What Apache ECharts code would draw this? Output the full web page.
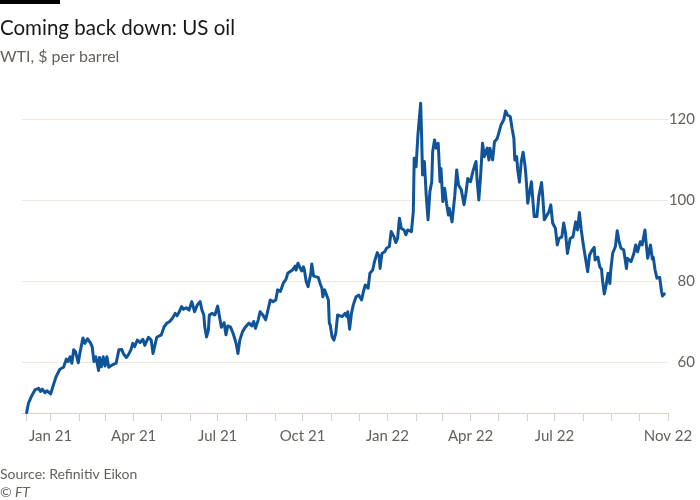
<!DOCTYPE html>
<html>
<head>
<meta charset="utf-8">
<script src="https://cdn.jsdelivr.net/npm/echarts@6/dist/echarts.min.js"></script>
<style>html,body{margin:0;padding:0;background:#fff;}#c{width:700px;height:500px;}</style>
</head>
<body>
<div id="c"></div>
<script>
// Days since 1 Jan 2021 (as placed on the chart's time axis)
const days = [-26,-24,-21,-17,-13,-11,-9,-6,-4,0,3,6,10,14,17,19,21,23,25,27,30,32,35,37,40,43,45,47,49,52,53,55,57,59,61,63,67,71,74,77,79,82,84,87,89,91,94,97,100,102,106,108,109,111,115,117,120,123,126,129,132,135,137,139,142,144,147,150,153,154,156,159,162,164,166,167,169,171,172,175,178,181,183,185,188,190,192,195,198,201,203,205,208,211,215,218,220,222,225,227,230,233,236,238,241,244,246,249,252,255,257,259,262,265,266,268,270,272,274,275,277,279,282,283,285,287,290,292,294,295,297,299,301,302,303,305,307,309,311,313,316,319,321,322,324,326,328,331,334,337,339,341,344,346,349,351,354,356,357,359,362,364,367,369,372,374,376,378,380,383,385,387,391,393,394,396,398,401,402,403,405,407,409,411,413,414,416,418,420,422,423,425,427,429,431,432,435,438,440,442,445,448,450,452,455,458,461,462,464,466,468,470,473,475,476,479,481,484,487,488,491,493,495,498,500,502,503,505,506,508,510,512,514,515,517,521,524,527,529,532,533,535,538,540,542,544,547,549,551,554,556,558,560,563,566,569,571,573,575,577,579,580,582,584,587,589,590,593,595,597,598,600,602,604,606,607,609,612,614,616,618,621,624,625,627,629,632,634,636,639,641,644,645,647,650,652,653,655,657,660,662,663,665];
// WTI, $ per barrel
const price = [47.5,49.8,51.4,53.1,53.5,52.7,53.3,52.4,52.9,52.1,54.3,56.4,58.2,58.7,60.7,60.1,61.3,59.7,63.0,62.5,59.8,62.5,65.9,64.6,65.7,64.8,63.8,60.1,61.3,57.9,61.1,58.8,61.3,59.0,61.3,58.7,59.3,59.7,63.0,63.1,62.0,61.1,61.7,63.0,64.6,63.8,65.4,64.8,65.6,64.1,66.1,66.2,65.4,62.1,66.1,66.5,66.7,68.7,69.6,70.0,70.8,72.0,71.4,72.2,73.7,73.0,73.4,72.8,74.9,74.5,72.4,74.1,74.9,72.8,71.6,68.7,66.2,67.9,71.6,72.0,71.6,73.8,71.2,68.6,69.7,66.7,68.9,68.6,66.9,64.6,62.1,65.4,67.5,68.6,69.6,68.9,70.0,68.3,70.4,72.4,71.6,70.4,73.3,75.3,74.9,75.3,77.8,77.4,79.4,80.4,81.9,82.2,82.7,83.7,82.7,84.4,83.4,82.5,83.5,82.7,79.8,78.6,81.9,84.2,81.2,80.9,80.9,79.4,78.2,76.1,77.8,78.2,75.3,69.6,69.1,66.2,65.4,67.1,71.6,72.0,71.2,72.0,71.2,72.4,68.1,72.0,74.1,76.1,76.5,75.3,77.4,79.0,78.2,81.9,82.7,84.8,87.0,86.0,83.1,86.8,87.2,88.1,88.5,92.2,91.0,89.5,90.5,95.5,93.0,92.6,91.4,92.6,92.2,97.1,110.3,108.2,116.0,123.9,116.0,106.2,109.5,101.2,95.1,102.1,104.5,111.9,114.8,112.8,114.0,104.5,107.8,99.6,102.9,99.2,96.3,97.9,94.6,101.2,107.4,103.7,102.5,98.8,101.6,105.3,104.5,107.4,109.5,105.3,100.0,106.2,114.0,110.7,112.8,109.9,112.8,109.9,114.4,115.2,117.7,118.5,119.8,122.0,121.0,120.6,117.7,115.2,109.9,110.7,107.8,104.4,109.5,111.8,108.6,106.2,99.2,104.5,95.9,95.9,100.8,104.3,101.7,95.1,96.3,97.1,98.8,94.3,93.0,88.9,90.5,90.9,94.3,91.8,86.8,90.5,90.9,94.6,92.6,96.9,92.6,89.3,86.4,86.8,82.3,86.4,87.7,88.3,85.2,85.9,83.5,82.9,80.2,76.8,79.0,81.9,79.4,82.7,86.8,88.5,92.4,89.7,88.1,87.7,83.1,85.6,86.0,84.8,86.8,88.9,87.2,89.7,88.9,92.6,90.1,85.6,88.9,85.4,85.9,82.7,80.7,80.9,77.4,76.3,76.8];
// Axis ticks: month starts (days since 1 Jan 2021)
const monthTicks = [-26,0,31,59,90,120,151,181,212,243,273,304,334,365,396,424,455,485,516,546,577,608,638,669];
const xLabelDays = [0,90,181,273,365,455,546,669];
const xLabelText = ['Jan 21','Apr 21','Jul 21','Oct 21','Jan 22','Apr 22','Jul 22','Nov 22'];
const yTicks = [60,80,100,120];

const FONT = 'Lato, "Open Sans", sans-serif';
const chart = echarts.init(document.getElementById('c'), null, {renderer:'canvas'});
chart.setOption({
  animation:false,
  backgroundColor:'#fff',
  graphic:[
    {type:'rect', shape:{x:0,y:0,width:60,height:4}, style:{fill:'#000'}},
    {type:'text', x:0, y:18, style:{text:'Coming back down: US oil', font:'20.5px '+FONT, fill:'#1a1817'}},
    {type:'text', x:0, y:49, style:{text:'WTI, $ per barrel', font:'16px '+FONT, fill:'#66605c'}},
    {type:'text', x:0, y:467, style:{text:'Source: Refinitiv Eikon', font:'14px '+FONT, fill:'#66605c'}},
    {type:'text', x:0, y:485, style:{text:'© FT', font:'italic 14px '+FONT, fill:'#66605c'}}
  ],
  grid:{left:22, right:32, top:78.5, bottom:87, containLabel:false},
  xAxis:{
    type:'value', min:-31, max:669,
    axisLine:{show:true, lineStyle:{color:'#d9d0c8', width:1}},
    axisTick:{show:true, customValues:monthTicks, length:8, lineStyle:{color:'#d9d0c8'}},
    axisLabel:{customValues:xLabelDays, margin:16, color:'#66605c', fontSize:15, fontFamily:FONT,
      formatter:function(v){const i=xLabelDays.indexOf(Math.round(v)); return i>=0?xLabelText[i]:'';}},
    splitLine:{show:false}
  },
  yAxis:{
    type:'value', position:'right', min:47.4, max:130,
    axisLine:{show:false},
    axisTick:{show:false, customValues:yTicks},
    axisLabel:{customValues:yTicks, margin:27, align:'right', color:'#66605c', fontSize:15, fontFamily:FONT},
    splitLine:{show:true, lineStyle:{color:'#efe8e1', width:1}}
  },
  series:[{
    type:'line', showSymbol:false, smooth:false,
    data: days.map((d,i)=>[d, price[i]]),
    lineStyle:{color:'#0f5499', width:3, join:'round', cap:'round'},
    itemStyle:{color:'#0f5499'}
  }]
});
</script>
</body>
</html>
